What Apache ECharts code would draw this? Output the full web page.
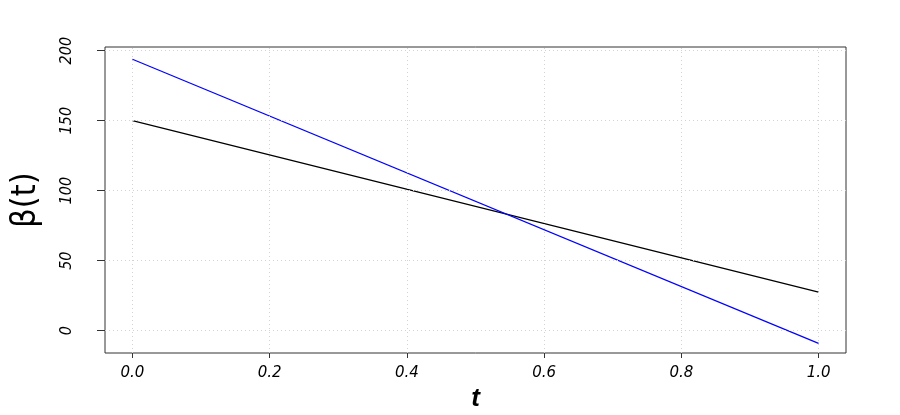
<!DOCTYPE html>
<html>
<head>
<meta charset="utf-8">
<script src="https://cdn.jsdelivr.net/npm/echarts@6/dist/echarts.min.js"></script>
<style>
html, body { margin: 0; padding: 0; background: #fff; }
#chart { width: 900px; height: 415px; }
</style>
</head>
<body>
<div id="chart"></div>
<script>
// values (straight lines, so the two ends are enough)
const tValues = [0, 1]
const blackLine = [150, 27.6]
const blueLine = [193.9, -9.0]
const xTicks = [0, 0.2, 0.4, 0.6, 0.8, 1.0]
const yTicks = [0, 50, 100, 150, 200]

const chart = echarts.init(document.getElementById('chart'))
const gridLine = { color: '#d3d3d3', type: [1, 3], width: 1 }
const narrow = 'Liberation Sans Narrow, DejaVu Sans Condensed, Liberation Sans'

chart.setOption({
  animation: false,
  grid: {
    left: 105, right: 54, top: 47, bottom: 62,
    outerBoundsMode: 'none',
    show: true, borderColor: '#333', borderWidth: 1
  },
  xAxis: {
    type: 'value',
    min: -0.04,
    max: 1.04,
    name: 't',
    nameLocation: 'middle',
    nameGap: 33,
    nameTextStyle: { fontFamily: 'Liberation Sans', fontStyle: 'italic', fontWeight: 'bold', fontSize: 26, color: '#000' },
    axisLine: { show: false, onZero: false },
    splitLine: { show: false },
    axisTick: { show: true, customValues: xTicks, length: 5, lineStyle: { color: '#333' } },
    axisLabel: {
      customValues: xTicks,
      margin: 13,
      fontFamily: 'DejaVu Sans',
      fontStyle: 'italic',
      fontSize: 15,
      color: '#000',
      formatter: function (v) { return v.toFixed(1) }
    }
  },
  yAxis: {
    type: 'value',
    min: -15.9,
    max: 202.6,
    name: 'β(t)',
    nameLocation: 'middle',
    nameRotate: 90,
    nameGap: 62,
    nameTextStyle: { fontFamily: narrow, fontSize: 34, color: '#000' },
    axisLine: { show: false, onZero: false },
    splitLine: { show: false },
    axisTick: { show: true, customValues: yTicks, length: 8, lineStyle: { color: '#333' } },
    axisLabel: {
      customValues: yTicks,
      rotate: 90,
      margin: 30,
      fontFamily: narrow,
      fontStyle: 'italic',
      fontSize: 16,
      color: '#000'
    }
  },
  series: [
    {
      name: 'grid',
      type: 'line',
      data: [],
      silent: true,
      markLine: {
        silent: true,
        symbol: 'none',
        label: { show: false },
        lineStyle: gridLine,
        emphasis: { disabled: true },
        data: xTicks.map(function (v) { return { xAxis: v } })
          .concat(yTicks.map(function (v) { return { yAxis: v } }))
      }
    },
    {
      name: 'black',
      type: 'line',
      data: tValues.map(function (t, i) { return [t, blackLine[i]] }),
      showSymbol: false,
      lineStyle: { color: '#000', width: 1.2 },
      z: 3
    },
    {
      name: 'blue',
      type: 'line',
      data: tValues.map(function (t, i) { return [t, blueLine[i]] }),
      showSymbol: false,
      lineStyle: { color: '#0000ff', width: 1.2 },
      z: 3
    }
  ]
})
</script>
</body>
</html>
